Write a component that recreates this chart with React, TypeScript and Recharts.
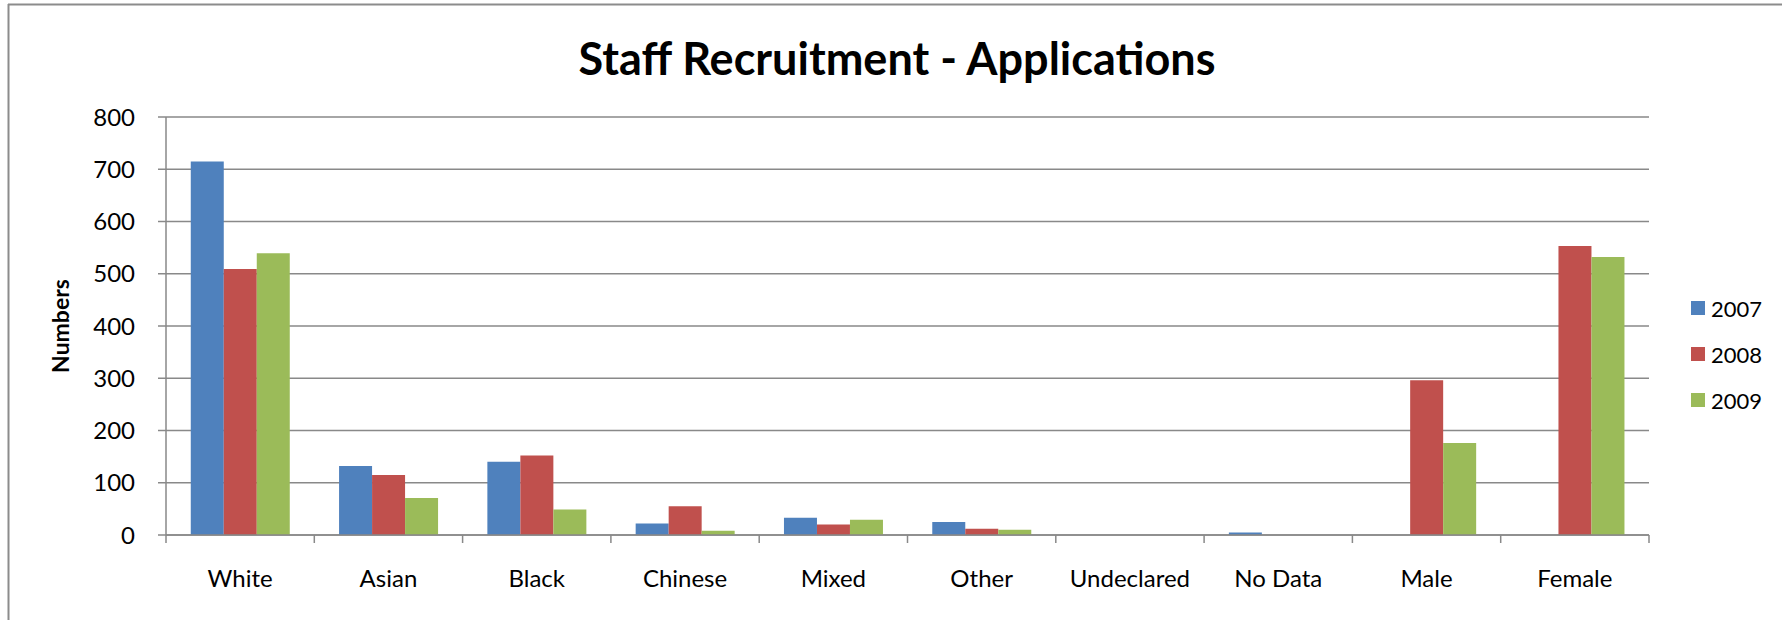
import { BarChart, Bar, XAxis, YAxis, CartesianGrid, Legend } from "recharts";

const categories = [
  "White",
  "Asian",
  "Black",
  "Chinese",
  "Mixed",
  "Other",
  "Undeclared",
  "No Data",
  "Male",
  "Female",
];
const apps2007 = [715, 132, 140, 22, 33, 25, 0, 5, 0, 0];
const apps2008 = [509, 115, 152, 55, 20, 12, 0, 0, 296, 553];
const apps2009 = [539, 71, 49, 8, 29, 10, 0, 0, 176, 532];
const years = ["2007", "2008", "2009"];
const yTicks = [0, 100, 200, 300, 400, 500, 600, 700, 800];

const colors = ["#4F81BD", "#C0504D", "#9BBB59"];
const gridColor = "#898989";
const font = "Lato, 'Open Sans', sans-serif";

const data = categories.map((name, i) => ({
  name,
  "2007": apps2007[i],
  "2008": apps2008[i],
  "2009": apps2009[i],
}));

// category labels with tick marks on the band edges, like Excel
const CategoryTick = (props: any) => {
  const { x, y, payload, index, visibleTicksCount } = props;
  const half = payload.offset || 0;
  return (
    <g>
      <line x1={x - half} x2={x - half} y1={y} y2={y + 8} stroke={gridColor} strokeWidth={1.5} />
      {index === visibleTicksCount - 1 && (
        <line x1={x + half} x2={x + half} y1={y} y2={y + 8} stroke={gridColor} strokeWidth={1.5} />
      )}
      <text x={x} y={y + 52} textAnchor="middle" fill="#000" fontSize={24} fontFamily={font}>
        {payload.value}
      </text>
    </g>
  );
};

const LegendContent = (props: any) => {
  const items = props.payload || [];
  return (
    <div style={{ fontFamily: font, fontSize: 22, color: "#000" }}>
      {items.map((e: any) => (
        <div key={e.value} style={{ display: "flex", alignItems: "center", height: 46 }}>
          <span
            style={{ display: "inline-block", width: 14, height: 14, background: e.color, marginRight: 6 }}
          />
          <span>{e.value}</span>
        </div>
      ))}
    </div>
  );
};

export default function App() {
  return (
    <div style={{ position: "absolute", left: 0, top: 0, width: 1782, height: 620, background: "#fff" }}>
      <BarChart
        width={1782}
        height={620}
        data={data}
        margin={{ top: 117, right: 133, bottom: 25, left: 66 }}
        barCategoryGap="16.7%"
        barGap={0}
      >
        <CartesianGrid vertical={false} stroke={gridColor} strokeWidth={1.5} />
        <XAxis
          dataKey="name"
          height={60}
          tickLine={false}
          tickSize={0}
          tickMargin={0}
          axisLine={{ stroke: gridColor, strokeWidth: 1.5 }}
          tick={<CategoryTick />}
          interval={0}
        />
        <YAxis
          width={100}
          domain={[0, 800]}
          ticks={yTicks}
          tickSize={8}
          tickMargin={23}
          axisLine={{ stroke: gridColor, strokeWidth: 1.5 }}
          tickLine={{ stroke: gridColor, strokeWidth: 1.5 }}
          tick={{ fill: "#000", fontSize: 24, fontFamily: font }}
        />
        <Legend
          layout="vertical"
          align="center"
          verticalAlign="middle"
          content={<LegendContent />}
          wrapperStyle={{ left: 1691, top: 285, width: 90 }}
        />
        {years.map((yr, i) => (
          <Bar key={yr} dataKey={yr} name={yr} fill={colors[i]} isAnimationActive={false} />
        ))}
      </BarChart>
      <svg
        width={1782}
        height={620}
        style={{ position: "absolute", left: 0, top: 0, pointerEvents: "none" }}
      >
        <line x1={8.5} x2={8.5} y1={4} y2={620} stroke="#8c8c8c" strokeWidth={2} />
        <line x1={8} x2={1782} y1={4.5} y2={4.5} stroke="#8c8c8c" strokeWidth={2} />
        <text x={897} y={75} textAnchor="middle" fontSize={45} fontWeight="bold" fontFamily={font} fill="#000">
          Staff Recruitment - Applications
        </text>
        <text
          x={69}
          y={326}
          transform="rotate(-90 69 326)"
          textAnchor="middle"
          fontSize={23}
          fontWeight="bold"
          fontFamily={font}
          fill="#000"
        >
          Numbers
        </text>
      </svg>
    </div>
  );
}
